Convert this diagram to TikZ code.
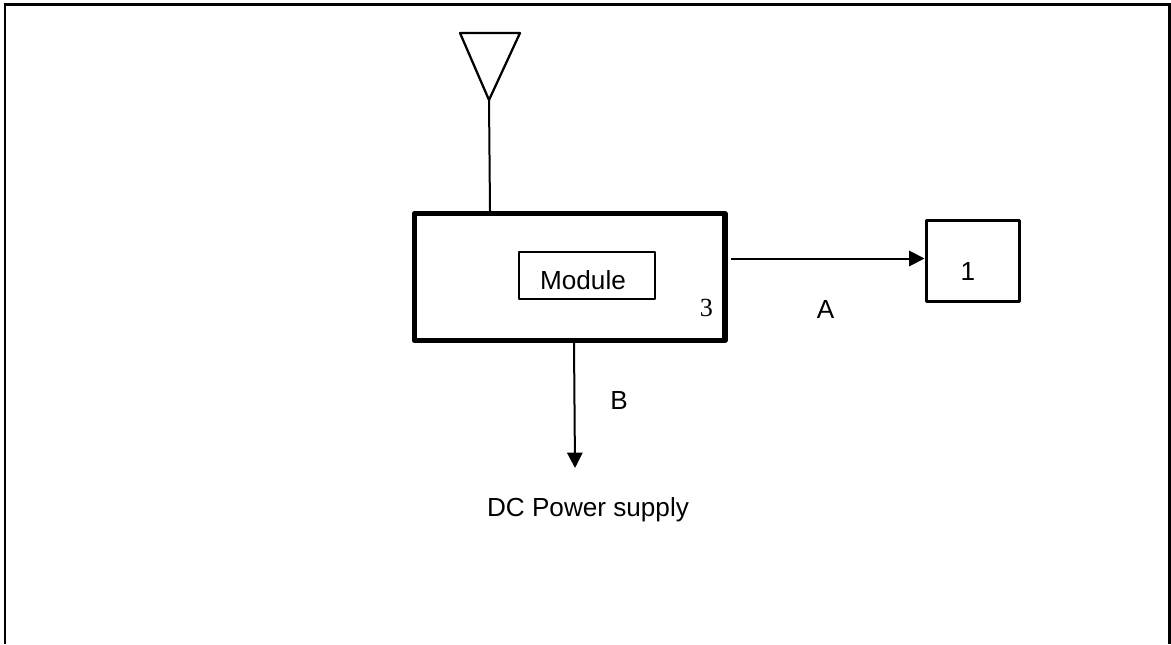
\documentclass[tikz,border=0pt]{standalone}
\usepackage{fontspec}
\setmainfont{Liberation Sans}
\newfontfamily\serifnum{Liberation Serif}
\usetikzlibrary{arrows.meta}
\tikzset{
  px/.style={x=0.75pt,y=-0.75pt},
  lbl/.style={inner sep=0pt,font=\fontsize{19.6pt}{22pt}\selectfont,text=black},
  thinbox/.style={draw=black,line width=1.6pt,inner sep=0pt,outer sep=0pt,anchor=north west,line join=round},
  thickbox/.style={draw=black,line width=4pt,inner sep=0pt,outer sep=0pt,anchor=north west,line join=round},
  wire/.style={draw=black,line width=1.5pt},
  arrowwire/.style={wire,-{Triangle[length=11.5pt,width=11.5pt]}},
}
\begin{document}
\begin{tikzpicture}[px]
\useasboundingbox (0,0) rectangle (1171,644);
\draw[black,line width=2.2pt] (5,644) -- (5,4.5) -- (1169.5,4.5) -- (1169.5,644);
% Antenna
\coordinate (apex) at (489,100);
\coordinate (antl) at (460,33);
\coordinate (antr) at (520,33);
\draw[black,line width=1.7pt,line join=round] (antl) -- (antr) -- (apex) -- cycle;
% Boxes
\node[thickbox,minimum width=310.5*0.75pt,minimum height=127*0.75pt] (main) at (414.5,213.5) {};
\node[thinbox,line width=1.3pt,minimum width=136*0.75pt,minimum height=47*0.75pt] (mod) at (519,252) {};
\node[lbl] (modt) at (583,280.5) {Module};
\node[inner sep=0pt,font=\serifnum\fontsize{19.6pt}{22pt}\selectfont] (three) at (706.5,307.5) {3};
\node[thinbox,minimum width=93*0.75pt,minimum height=81*0.75pt] (one) at (926.5,220.5) {};
\node[lbl] (onet) at (968,271.5) {1};
\node[lbl] (a) at (825.5,309.5) {A};
\node[lbl] (b) at (619,401) {B};
\node[lbl] (dc) at (588,510) {DC Power supply};
% Connectors
\coordinate (antfoot) at (490,211);
\coordinate (afrom) at (730.5,258.5);
\coordinate (ato) at (924.5,258.5);
\coordinate (bfrom) at (574,343);
\coordinate (bto) at (575,468);
\draw[wire] (apex) -- (antfoot);
\draw[arrowwire] (afrom) -- (ato);
\draw[arrowwire] (bfrom) -- (bto);
\end{tikzpicture}
\end{document}
